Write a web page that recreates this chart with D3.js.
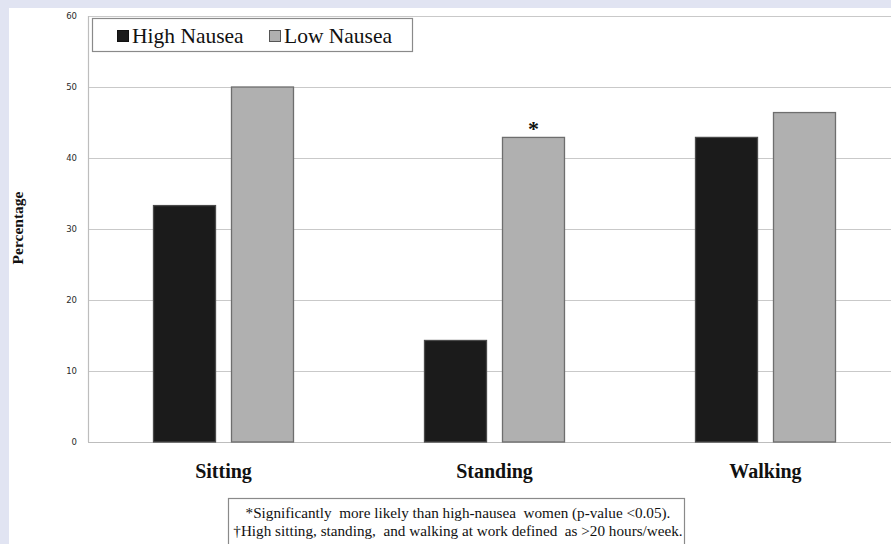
<!DOCTYPE html>
<html>
<head>
<meta charset="utf-8">
<script src="https://cdn.jsdelivr.net/npm/d3@7"></script>
<style>
  body { margin: 0; background: #e1e4f2; }
  svg { display: block; }
</style>
</head>
<body>
<div class="chart"></div>
<script>
/* ---------- data ---------- */
var categories = ["Sitting", "Standing", "Walking"];
var series = ["High Nausea", "Low Nausea"];
var highNausea = [33.3, 14.3, 42.9];
var lowNausea = [50.0, 42.9, 46.4];
var significant = [false, true, false];   // star over low nausea bar
var yTicks = [0, 10, 20, 30, 40, 50, 60];
var notes = [
  "*Significantly  more likely than high-nausea  women (p-value <0.05).",
  "\u2020High sitting, standing,  and walking at work defined  as >20 hours/week."
];

/* ---------- layout ---------- */
var width = 891, height = 544;
var plot = { left: 88, top: 16, right: 901, bottom: 442 };
var colors = { "High Nausea": "#1b1b1b", "Low Nausea": "#b0b0b0" };
var strokes = { "High Nausea": "#4a4a4a", "Low Nausea": "#6e6e6e" };
var serif = "'Liberation Serif', 'Times New Roman', serif";

var svg = d3.select(".chart").append("svg")
    .attr("width", width)
    .attr("height", height);

// white panel
svg.append("rect")
    .attr("x", 9).attr("y", 8)
    .attr("width", width - 9).attr("height", height - 8)
    .attr("fill", "#ffffff");

var y = d3.scaleLinear().domain([0, 60]).range([plot.bottom, plot.top]);
var x0 = d3.scaleBand().domain(categories).range([plot.left, plot.right]);
var x1 = d3.scaleBand().domain(series).range([0, x0.bandwidth()])
    .paddingInner(0.205).paddingOuter(0.84);

// gridlines
svg.append("g").selectAll("line").data(yTicks).enter()
    .append("line")
        .attr("x1", plot.left).attr("x2", width)
        .attr("y1", function(d) { return y(d) + 0.5; })
        .attr("y2", function(d) { return y(d) + 0.5; })
        .attr("stroke", function(d) { return d == 0 ? "#bdbdbd" : "#c9c9c9"; })
        .attr("stroke-width", 1.2);

// left axis line
svg.append("line")
    .attr("x1", plot.left + 0.5).attr("x2", plot.left + 0.5)
    .attr("y1", plot.top).attr("y2", plot.bottom)
    .attr("stroke", "#bdbdbd").attr("stroke-width", 1.2);

// tick labels
svg.append("g").selectAll("text").data(yTicks).enter()
    .append("text")
        .attr("x", 77)
        .attr("y", function(d) { return y(d) + 3; })
        .attr("text-anchor", "end")
        .attr("font-family", "'DejaVu Sans', sans-serif")
        .attr("font-size", 8.5)
        .attr("fill", "#2a2a2a")
        .text(function(d) { return d; });

// bars
var rows = categories.map(function(c, i) {
    return { cat: c, values: [
        { key: series[0], value: highNausea[i] },
        { key: series[1], value: lowNausea[i] }
    ], star: significant[i] };
});

var groups = svg.append("g").selectAll(".group").data(rows).enter()
    .append("g")
        .attr("class", "group")
        .attr("transform", function(d) { return "translate(" + x0(d.cat) + ",0)"; });

groups.selectAll("rect").data(function(d) { return d.values; }).enter()
    .append("rect")
        .attr("x", function(d) { return x1(d.key); })
        .attr("y", function(d) { return y(d.value); })
        .attr("width", x1.bandwidth())
        .attr("height", function(d) { return y(0) - y(d.value); })
        .attr("fill", function(d) { return colors[d.key]; })
        .attr("stroke", function(d) { return strokes[d.key]; })
        .attr("stroke-width", 1.3);

groups.filter(function(d) { return d.star; })
    .append("text")
        .attr("x", function(d) { return x1(series[1]) + x1.bandwidth() / 2; })
        .attr("y", function(d) { return y(d.values[1].value) - 1; })
        .attr("text-anchor", "middle")
        .attr("font-family", serif)
        .attr("font-weight", "bold")
        .attr("font-size", 22)
        .attr("fill", "#111")
        .text("*");

// category labels
svg.append("g").selectAll("text").data(categories).enter()
    .append("text")
        .attr("x", function(d) { return x0(d) + x0.bandwidth() / 2; })
        .attr("y", 478)
        .attr("text-anchor", "middle")
        .attr("font-family", serif)
        .attr("font-weight", "bold")
        .attr("font-size", 20)
        .attr("fill", "#111")
        .text(function(d) { return d; });

// y title
svg.append("text")
    .attr("transform", "translate(23,228) rotate(-90)")
    .attr("text-anchor", "middle")
    .attr("font-family", serif)
    .attr("font-weight", "bold")
    .attr("font-size", 15.5)
    .attr("fill", "#111")
    .text("Percentage");

// legend
var legend = svg.append("g");
legend.append("rect")
    .attr("x", 92.5).attr("y", 18.5)
    .attr("width", 320).attr("height", 33)
    .attr("fill", "#fff").attr("stroke", "#8a8a8a").attr("stroke-width", 1.2);

var legendX = [117, 269];
var items = legend.selectAll(".item").data(series).enter()
    .append("g")
        .attr("class", "item")
        .attr("transform", function(d, i) { return "translate(" + legendX[i] + ",0)"; });
items.append("rect")
    .attr("x", 0.5).attr("y", 30.5)
    .attr("width", 11).attr("height", 11)
    .attr("fill", function(d) { return colors[d]; })
    .attr("stroke", function(d) { return d == series[0] ? "#111" : "#555"; })
    .attr("stroke-width", 1);
items.append("text")
    .attr("x", 15).attr("y", 43)
    .attr("font-family", serif)
    .attr("font-size", 21.5)
    .attr("fill", "#111")
    .text(function(d) { return d; });

// footnote box
svg.append("rect")
    .attr("x", 228.5).attr("y", 498.5)
    .attr("width", 456).attr("height", 60)
    .attr("fill", "#fff").attr("stroke", "#8a8a8a").attr("stroke-width", 1.2);

svg.append("g").selectAll("text").data(notes).enter()
    .append("text")
        .attr("x", 458)
        .attr("y", function(d, i) { return 518 + i * 18; })
        .attr("text-anchor", "middle")
        .attr("font-family", serif)
        .attr("font-size", 15.2)
        .attr("fill", "#111")
        .attr("xml:space", "preserve")
        .style("white-space", "pre")
        .text(function(d) { return d; });
</script>
</body>
</html>
